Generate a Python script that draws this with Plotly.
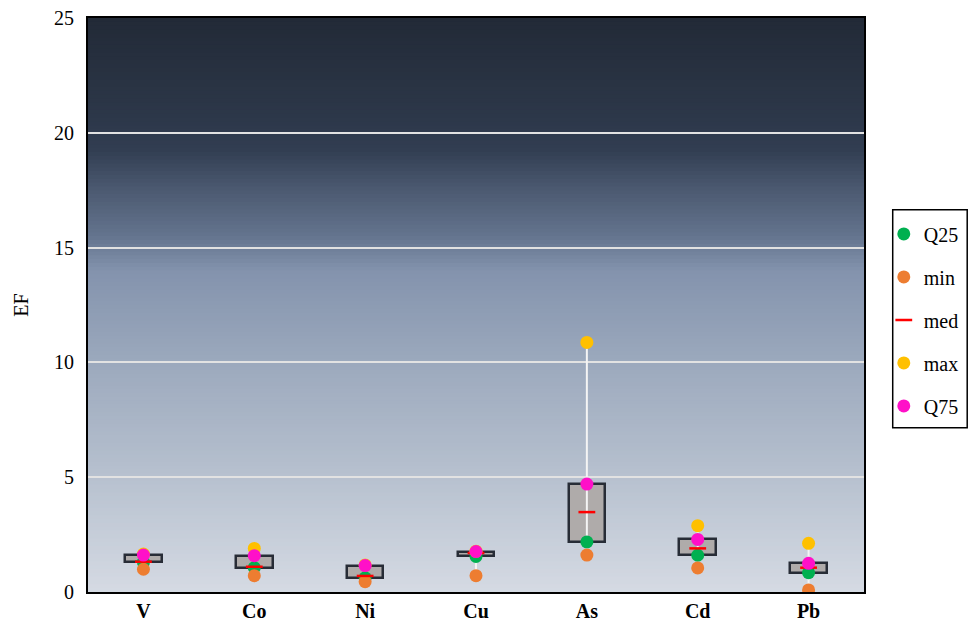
import plotly.graph_objects as go

categories = ["V", "Co", "Ni", "Cu", "As", "Cd", "Pb"]
q25_vals = [1.30, 1.06, 0.62, 1.55, 2.18, 1.60, 0.84]
min_vals = [0.99, 0.71, 0.45, 0.71, 1.61, 1.05, 0.09]
med_vals = [1.32, 1.10, 0.70, 1.70, 3.48, 1.90, 1.06]
max_vals = [1.65, 1.90, 1.18, 1.78, 10.87, 2.89, 2.12]
q75_vals = [1.61, 1.58, 1.15, 1.76, 4.70, 2.29, 1.25]

y_ticks = [0, 5, 10, 15, 20, 25]

FONT = "Liberation Serif, Times New Roman, serif"

fig = go.Figure()

# whiskers (min to max), white
wx, wy = [], []
for c, lo, hi in zip(categories, min_vals, max_vals):
    wx += [c, c, None]
    wy += [lo, hi, None]
fig.add_trace(go.Scatter(x=wx, y=wy, mode="lines", line=dict(color="#f4f4f4", width=2),
                         showlegend=False, hoverinfo="skip"))

# boxes Q25..Q75
fig.add_trace(go.Bar(x=categories, y=[b - a for a, b in zip(q25_vals, q75_vals)], base=q25_vals,
                     width=0.33, marker=dict(color="#afabaa", line=dict(color="#272c36", width=2.5)),
                     showlegend=False, hoverinfo="skip"))

series = [
    ("Q25", q25_vals, "#00b050", "circle"),
    ("min", min_vals, "#ed7d31", "circle"),
    ("med", med_vals, "#ff0000", "line-ew"),
    ("max", max_vals, "#ffc000", "circle"),
    ("Q75", q75_vals, "#ff10c8", "circle"),
]
for name, vals, col, sym in series:
    if sym == "line-ew":
        mk = dict(symbol=sym, size=12, line=dict(color=col, width=2.5), color=col)
    else:
        mk = dict(symbol=sym, size=13, color=col, line=dict(width=0))
    fig.add_trace(go.Scatter(x=categories, y=vals, mode="markers", name=name, marker=mk,
                             legendgroup=name))

# gradient background
stops = [
    (0.00, (0xd5, 0xda, 0xe3)),
    (0.20, (0xb7, 0xc1, 0xcf)),
    (0.40, (0x9c, 0xa9, 0xbd)),
    (0.56, (0x83, 0x93, 0xad)),
    (0.62, (0x64, 0x74, 0x8e)),
    (0.70, (0x4c, 0x5a, 0x71)),
    (0.77, (0x32, 0x3e, 0x52)),
    (0.82, (0x2d, 0x38, 0x4a)),
    (1.00, (0x22, 0x2a, 0x37)),
]

def interp(t):
    for (t0, c0), (t1, c1) in zip(stops[:-1], stops[1:]):
        if t0 <= t <= t1:
            f = (t - t0) / (t1 - t0) if t1 > t0 else 0
            return "rgb(%d,%d,%d)" % tuple(round(a + (b - a) * f) for a, b in zip(c0, c1))
    return "rgb(%d,%d,%d)" % stops[-1][1]

N = 150
shapes = []
for i in range(N):
    t0 = i / N
    t1 = (i + 1) / N
    shapes.append(dict(type="rect", xref="x domain", yref="y domain", x0=0, x1=1,
                       y0=t0, y1=t1 + 0.002, fillcolor=interp((t0 + t1) / 2),
                       line=dict(width=0), layer="below"))

# legend frame
shapes.append(dict(type="rect", xref="paper", yref="paper", x0=1.037, x1=1.133,
                   y0=0.286, y1=0.666, line=dict(color="black", width=1.5),
                   fillcolor="rgba(0,0,0,0)", layer="above"))

fig.update_layout(
    width=970, height=613,
    margin=dict(l=80, r=114, t=10, b=29, autoexpand=False),
    paper_bgcolor="white",
    plot_bgcolor="#d5dae3",
    shapes=shapes,
    font=dict(family=FONT, size=20, color="black"),
    bargap=0,
    legend=dict(x=1.0255, xanchor="left", y=0.474, yanchor="middle",
                borderwidth=0, bgcolor="rgba(0,0,0,0)",
                font=dict(family=FONT, size=20), tracegroupgap=14,
                itemwidth=30),
)
fig.update_xaxes(type="category", categoryorder="array", categoryarray=categories,
                 range=[-0.5, len(categories) - 0.5], automargin=False,
                 showline=True, linecolor="black", linewidth=2, mirror=True,
                 showgrid=False, ticks="", ticklabeloverflow="allow",
                 tickfont=dict(family=FONT, size=20, weight="bold"))
fig.update_yaxes(range=[0, 25], tickvals=y_ticks, ticktext=[str(v) for v in y_ticks],
                 showline=True, linecolor="black", linewidth=2, mirror=True, automargin=False,
                 showgrid=True, gridcolor="#e2e2e2", gridwidth=2, zeroline=False,
                 ticks="", ticklabelstandoff=8, ticklabeloverflow="allow",
                 tickfont=dict(family=FONT, size=20),
                 title=dict(text="EF", font=dict(family=FONT, size=20), standoff=20))

fig.write_html("out.html")
